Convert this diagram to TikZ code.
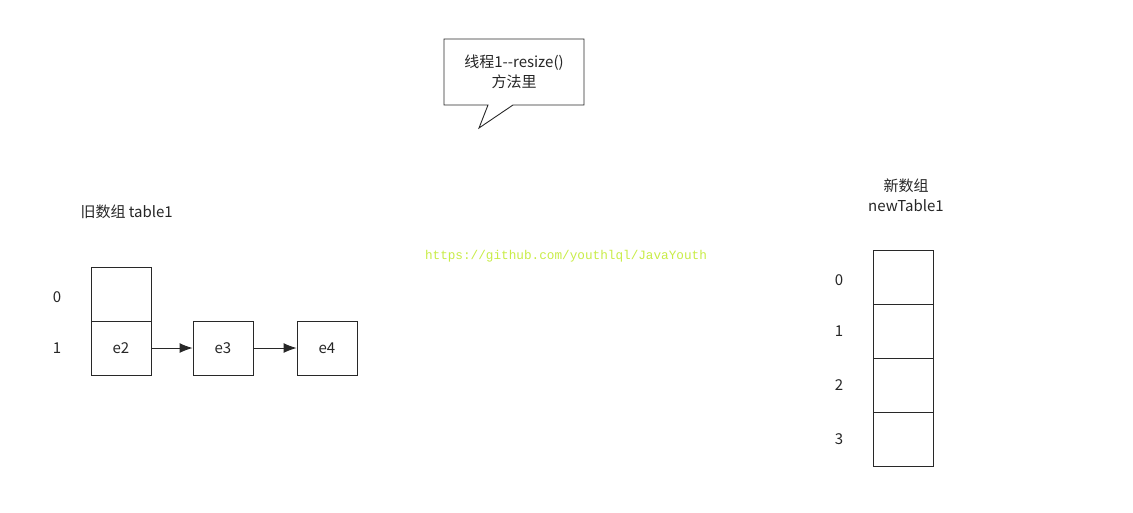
\documentclass[tikz,border=0pt]{standalone}
\usepackage{fontspec}
\setmainfont{Noto Sans CJK SC}
\newfontfamily\markFont{Liberation Mono}
\usetikzlibrary{arrows.meta}
\tikzstyle{pixels} = [x = 1pt, y = -1pt, every node/.style={text=black!85, font=\fontsize{15}{20}\selectfont}]
\definecolor{lineColor}{RGB}{40,40,40}
\definecolor{markColor}{RGB}{200,236,70}
\tikzstyle{cellStyle} = [draw=lineColor, line width=.9pt, minimum width=60pt, minimum height=54pt, inner sep=0pt]
\tikzstyle{linkStyle} = [draw=lineColor, line width=.9pt, -{Latex[length=13pt, width=10pt]}]
\tikzstyle{calloutStyle} = [draw=lineColor, line width=.9pt, fill=white]
\tikzstyle{markText} = [font=\markFont\fontsize{12.7}{15}\selectfont, text=markColor]
\newcommand{\arrayCell}[4]{\node [cellStyle] (#1) at (#2, #3) {#4};}
\newcommand{\indexLabel}[4]{\node (#1) at (#2, #3) {#4};}
\begin{document}
\begin{tikzpicture}[pixels]
  \useasboundingbox (0,0) rectangle (1133,512);
  % callout
  \draw [calloutStyle] (488,105) -- (444,105) -- (444,39) -- (584,39) -- (584,105) -- (513,105) -- (479,128) -- cycle;
  \node [align=center] (threadNote) at (514,72) {线程1-{}-resize()\\方法里};
  % watermark
  \node [markText] (mark) at (566,256) {https://github.com/youthlql/JavaYouth};
  % old table
  \node [anchor=west] (oldTitle) at (77,212) {旧数组 table1};
  \arrayCell{old0}{121}{294}{}
  \arrayCell{old1}{121}{348}{e2}
  \arrayCell{e3}{223}{348}{e3}
  \arrayCell{e4}{327}{348}{e4}
  \indexLabel{oldIdx0}{57}{297}{0}
  \indexLabel{oldIdx1}{57}{348}{1}
  \draw [linkStyle] (old1) -- (e3);
  \draw [linkStyle] (e3) -- (e4);
  % new table
  \node [align=center] (newTitle) at (906,195) {新数组\\newTable1};
  \foreach \row/\ypos/\ylab in {0/277/280, 1/331/331, 2/385/385, 3/439/439} {
    \arrayCell{new\row}{903}{\ypos}{}
    \indexLabel{newIdx\row}{839}{\ylab}{\row}
  }
\end{tikzpicture}
\end{document}
